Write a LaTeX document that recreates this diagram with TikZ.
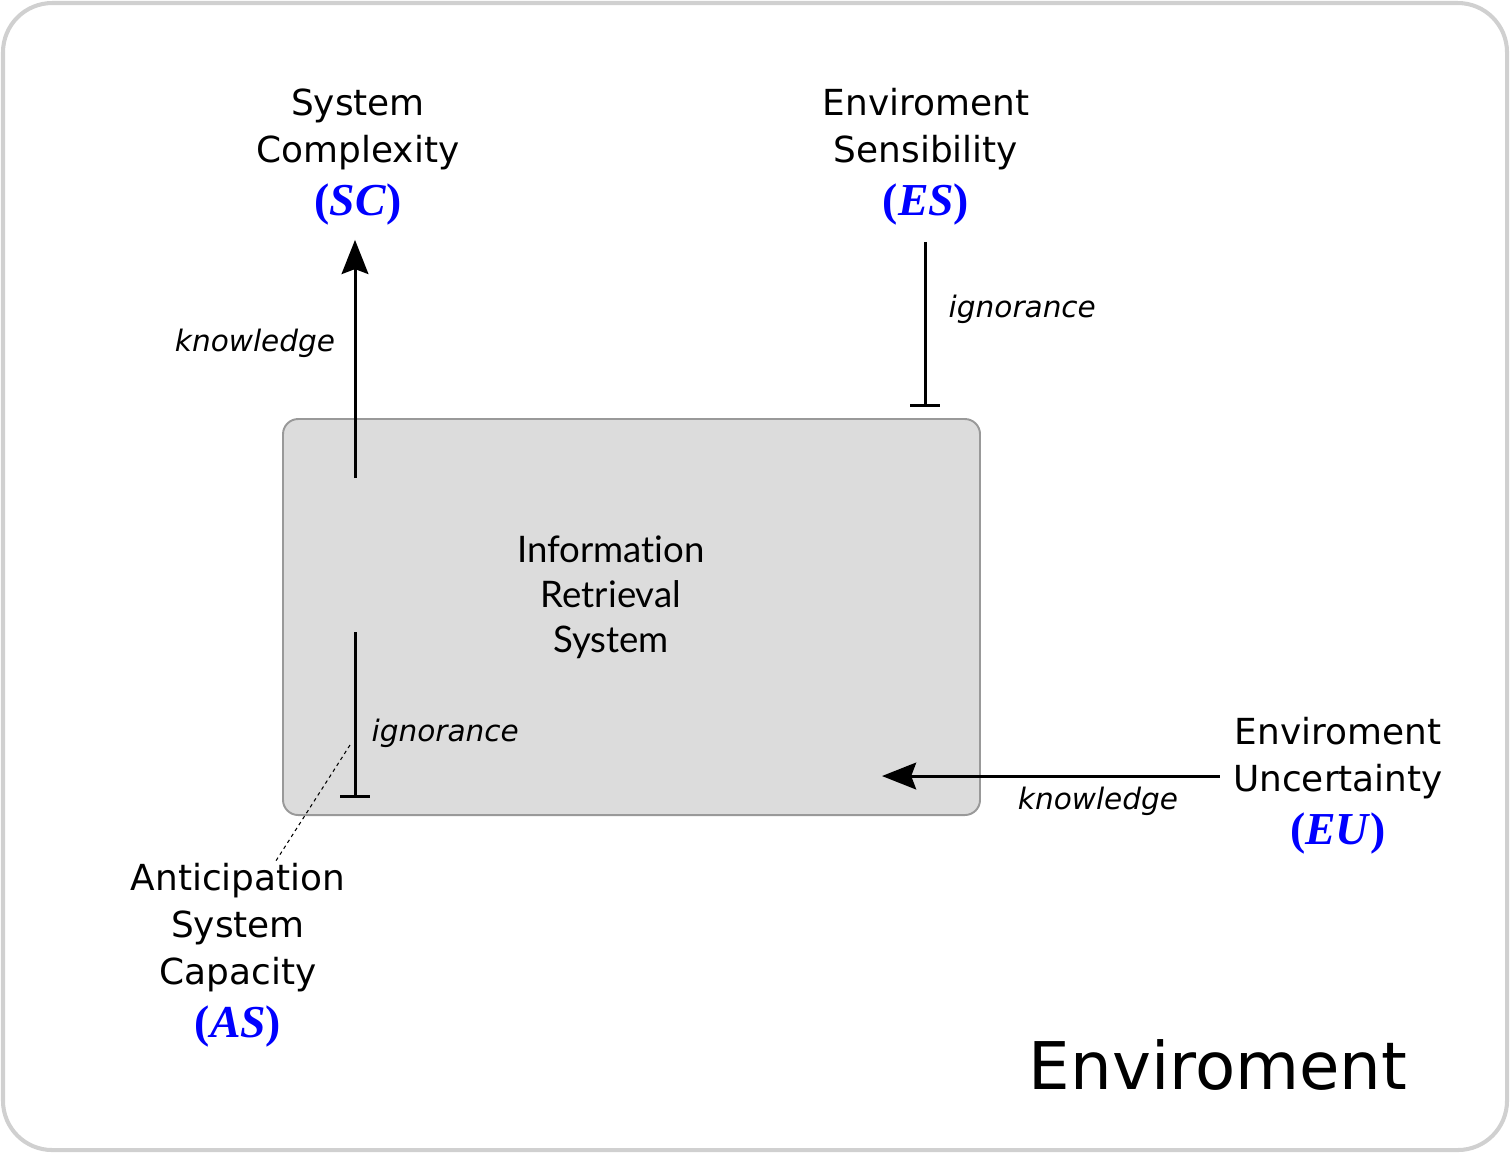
\documentclass[tikz,border=0pt]{standalone}
\usepackage{fontspec}
\setmainfont{DejaVu Sans}
\newfontfamily\abbrfont{Liberation Serif}
\newfontfamily\irsfont[Ligatures=NoCommon]{Lato}
\usetikzlibrary{arrows.meta}
\definecolor{abbrblue}{RGB}{0,0,255}
\definecolor{boxfill}{RGB}{220,220,220}
\definecolor{boxline}{RGB}{153,153,153}
\definecolor{frameline}{RGB}{208,208,208}
\newcommand{\abbr}[1]{{\abbrfont\fontsize{13}{14}\selectfont\color{abbrblue}\bfseries(\textit{#1})}}
\begin{document}
\begin{tikzpicture}[x=0.01cm,y=-0.01cm,
    factor/.style={align=center,inner sep=0pt,font=\fontsize{10.2}{13.4}\selectfont},
    relname/.style={inner sep=0pt,font=\fontsize{8.4}{10}\selectfont\itshape},
    know/.style={-{Stealth[length=9.7pt,width=7.6pt,inset=1.4pt]},line width=0.85pt},
    ign/.style={-{Bar[width=8.5pt]},line width=0.85pt},
    lead/.style={dashed,dash pattern=on 1pt off 1pt,line width=0.3pt}]
  \useasboundingbox (0,0) rectangle (1510,1153);
  \draw[frameline,line width=1.15pt,rounded corners=14pt] (3,3) rectangle (1507,1150);
  \node[draw=boxline,fill=boxfill,line width=0.55pt,rounded corners=4.3pt,
        minimum width=697*0.01cm,minimum height=396*0.01cm] (irs) at (631.5,617) {};
  \node[align=center,font=\fontsize{10.4}{12.8}\selectfont\irsfont] (irstext) at (611,597)
    {Information\\Retrieval\\System};

  \node[factor] (sc) at (358,157) {System\\Complexity\\[1.6pt]\abbr{SC}};
  \node[factor] (es) at (926,157) {Enviroment\\Sensibility\\[1.6pt]\abbr{ES}};
  \node[factor] (eu) at (1338,786) {Enviroment\\Uncertainty\\[1.6pt]\abbr{EU}};
  \node[factor] (as) at (238,955) {Anticipation\\System\\Capacity\\[1.6pt]\abbr{AS}};
  \node[font=\fontsize{18.7}{22}\selectfont] (env) at (1218,1065) {Enviroment};

  \coordinate (scFoot) at (355,478);
  \coordinate (esFoot) at (925,407);
  \coordinate (euTip) at (882,776);
  \coordinate (asTop) at (355,632);
  \coordinate (asFoot) at (355,798);
  \coordinate (asMark) at (350,745);
  \coordinate (asEnd) at (275,0);

  \draw[know,shorten >=4pt] (scFoot) -- (scFoot |- sc.south);
  \draw[ign,shorten <=4.5pt] (es.south -| esFoot) -- (esFoot);
  \draw[know,shorten <=3.7pt] (eu.west |- euTip) -- (euTip);
  \draw[ign] (asTop) -- (asFoot);
  \draw[lead] (asMark) -- (as.north -| asEnd);

  \node[relname] (k1) at (255,343) {knowledge};
  \node[relname,anchor=west] (i1) at (948,309) {ignorance};
  \node[relname,anchor=west] (i2) at (371,733) {ignorance};
  \node[relname] (k2) at (1098,801) {knowledge};
\end{tikzpicture}
\end{document}
